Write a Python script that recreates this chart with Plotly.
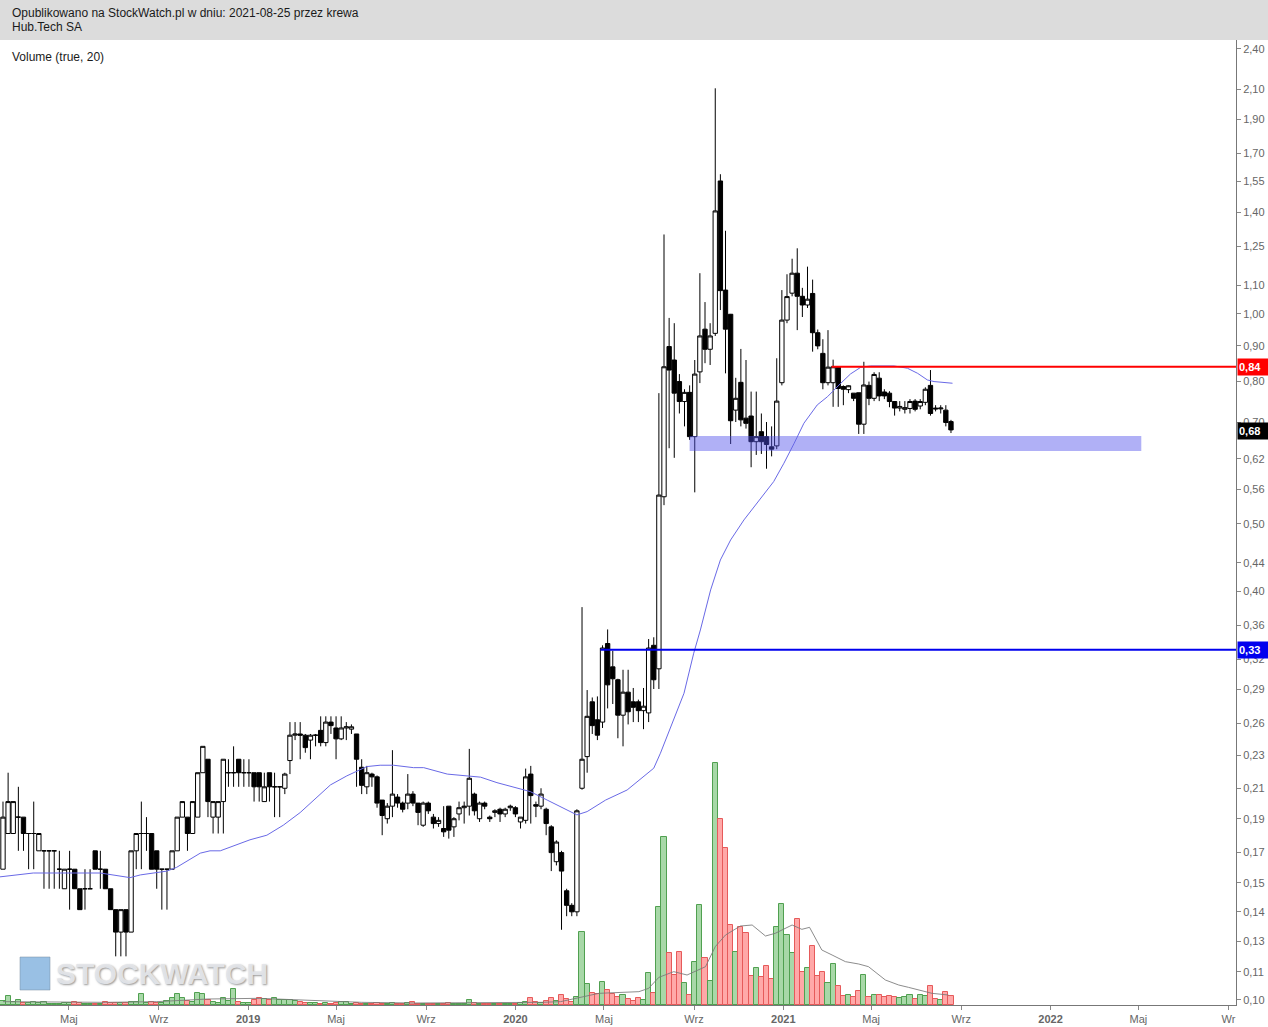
import numpy as np
import pandas as pd
import plotly.graph_objects as go

# ---------------- data ----------------
first_week = "2018-01-31"

opens = [
    0.16,0.18,0.18,0.19,0.19,0.18,0.18,0.17,0.17,0.17,
    0.17,0.16,0.15,0.16,0.16,0.15,0.15,0.15,0.17,0.16,
    0.16,0.15,0.14,0.13,0.14,0.13,0.17,0.18,0.18,0.18,
    0.17,0.16,0.16,0.16,0.17,0.19,0.19,0.18,0.19,0.22,
    0.23,0.19,0.19,0.20,0.22,0.22,0.23,0.22,0.22,0.22,
    0.22,0.20,0.22,0.21,0.21,0.209,0.229,0.249,0.25,0.249,
    0.245,0.249,0.253,0.243,0.26,0.255,0.246,0.255,0.254,0.25,
    0.224,0.21,0.219,0.217,0.201,0.189,0.197,0.203,0.199,0.199,
    0.205,0.199,0.185,0.199,0.19,0.186,0.183,0.197,0.184,0.192,
    0.196,0.197,0.205,0.189,0.199,0.19,0.193,0.195,0.192,0.196,
    0.196,0.187,0.188,0.219,0.198,0.197,0.195,0.184,0.164,0.169,
    0.149,0.142,0.139,0.209,0.232,0.278,0.262,0.26,0.337,0.312,
    0.299,0.266,0.287,0.278,0.278,0.27,0.268,0.335,0.31,0.547,
    0.898,0.859,0.80,0.749,0.772,0.667,0.826,0.951,0.89,0.938,
    1.551,1.082,0.999,0.728,0.798,0.709,0.714,0.656,0.678,0.667,
    0.645,0.647,0.797,0.98,1.071,1.144,1.06,1.03,1.07,0.94,
    0.878,0.797,0.797,0.84,0.787,0.779,0.77,0.771,0.695,0.79,
    0.757,0.809,0.773,0.77,0.749,0.733,0.73,0.732,0.75,0.738,
    0.747,0.79,0.733,0.731,0.728,0.701,
]
highs = [
    0.20,0.22,0.20,0.21,0.19,0.18,0.20,0.18,0.17,0.17,
    0.17,0.17,0.16,0.17,0.16,0.15,0.16,0.16,0.17,0.17,
    0.16,0.15,0.14,0.14,0.14,0.17,0.18,0.20,0.19,0.18,
    0.17,0.16,0.16,0.17,0.19,0.20,0.19,0.20,0.22,0.24,
    0.23,0.20,0.20,0.23,0.23,0.24,0.23,0.23,0.23,0.22,
    0.22,0.22,0.22,0.22,0.21,0.22,0.26,0.26,0.26,0.25,
    0.25,0.25,0.265,0.265,0.265,0.265,0.265,0.26,0.258,0.25,
    0.23,0.225,0.22,0.218,0.201,0.199,0.237,0.205,0.2,0.219,
    0.207,0.199,0.2,0.2,0.192,0.19,0.197,0.197,0.19,0.2,
    0.2,0.238,0.206,0.2,0.2,0.191,0.195,0.196,0.196,0.198,
    0.197,0.19,0.223,0.225,0.2,0.209,0.196,0.185,0.176,0.17,
    0.15,0.143,0.195,0.38,0.289,0.282,0.283,0.335,0.353,0.329,
    0.30,0.309,0.309,0.291,0.28,0.291,0.342,0.344,0.77,1.30,
    0.987,0.97,0.82,0.78,0.79,0.859,1.144,1.04,0.97,2.106,
    1.586,1.316,1.0,0.81,0.891,0.859,0.774,0.774,0.72,0.70,
    0.69,0.864,1.082,1.14,1.20,1.242,1.09,1.169,1.12,0.95,
    0.92,0.948,0.86,0.84,0.79,0.79,0.77,0.771,0.854,0.80,
    0.825,0.825,0.78,0.775,0.75,0.75,0.75,0.755,0.755,0.755,
    0.785,0.831,0.74,0.74,0.74,0.705,
]
lows = [
    0.16,0.18,0.18,0.17,0.17,0.16,0.16,0.17,0.15,0.15,
    0.15,0.15,0.15,0.14,0.15,0.14,0.14,0.15,0.16,0.15,
    0.15,0.14,0.12,0.12,0.12,0.13,0.16,0.16,0.17,0.16,
    0.15,0.14,0.14,0.16,0.17,0.19,0.17,0.18,0.19,0.22,
    0.19,0.18,0.18,0.18,0.21,0.21,0.21,0.21,0.21,0.20,
    0.20,0.20,0.20,0.19,0.19,0.205,0.219,0.245,0.23,0.235,
    0.23,0.24,0.24,0.24,0.25,0.23,0.245,0.245,0.25,0.21,
    0.205,0.205,0.21,0.196,0.179,0.186,0.19,0.196,0.193,0.195,
    0.197,0.185,0.184,0.192,0.183,0.184,0.178,0.177,0.178,0.188,
    0.186,0.191,0.191,0.187,0.195,0.187,0.19,0.187,0.19,0.194,
    0.19,0.183,0.186,0.186,0.19,0.195,0.179,0.159,0.162,0.131,
    0.137,0.137,0.137,0.208,0.22,0.25,0.245,0.255,0.272,0.276,
    0.2465,0.24,0.258,0.26,0.26,0.254,0.26,0.29,0.29,0.532,
    0.642,0.622,0.72,0.69,0.66,0.555,0.796,0.85,0.845,0.93,
    1.013,0.822,0.651,0.70,0.69,0.685,0.603,0.628,0.63,0.60,
    0.625,0.64,0.79,0.97,1.06,0.948,0.99,1.02,0.883,0.89,
    0.78,0.79,0.736,0.736,0.74,0.77,0.75,0.673,0.673,0.74,
    0.75,0.75,0.755,0.735,0.715,0.725,0.72,0.72,0.725,0.73,
    0.74,0.715,0.725,0.72,0.69,0.675,
]
closes = [
    0.19,0.20,0.20,0.19,0.18,0.18,0.18,0.18,0.17,0.17,
    0.17,0.16,0.16,0.16,0.15,0.14,0.15,0.15,0.16,0.16,
    0.15,0.14,0.13,0.14,0.13,0.17,0.18,0.18,0.18,0.16,
    0.16,0.16,0.16,0.17,0.19,0.20,0.18,0.20,0.22,0.24,
    0.20,0.20,0.20,0.23,0.22,0.22,0.22,0.22,0.22,0.21,
    0.21,0.21,0.21,0.21,0.21,0.219,0.249,0.25,0.249,0.239,
    0.249,0.249,0.243,0.26,0.257,0.246,0.255,0.256,0.256,0.23,
    0.211,0.22,0.217,0.199,0.191,0.197,0.205,0.199,0.195,0.205,
    0.199,0.193,0.199,0.194,0.186,0.188,0.181,0.182,0.189,0.196,
    0.197,0.216,0.194,0.199,0.197,0.189,0.194,0.192,0.195,0.197,
    0.192,0.19,0.217,0.204,0.197,0.205,0.186,0.169,0.175,0.159,
    0.142,0.139,0.194,0.23,0.265,0.257,0.249,0.332,0.294,0.30,
    0.266,0.287,0.269,0.273,0.27,0.274,0.332,0.299,0.55,0.84,
    0.831,0.77,0.749,0.772,0.667,0.82,0.93,0.89,0.93,1.405,
    1.08,0.951,0.703,0.757,0.705,0.697,0.656,0.667,0.656,0.65,
    0.64,0.75,0.98,1.059,1.144,1.06,1.03,1.05,0.94,0.90,
    0.797,0.839,0.84,0.782,0.78,0.789,0.757,0.695,0.791,0.757,
    0.819,0.763,0.763,0.749,0.733,0.737,0.734,0.749,0.73,0.749,
    0.78,0.72,0.731,0.733,0.699,0.682,
]
# weekly volume (thousand shares)
volume_k = [
    12,28,10,16,7,5,10,6,10,4,
    4,4,5,5,10,5,3,3,3,4,
    10,6,6,6,7,9,10,34,6,10,
    5,5,12,22,34,22,12,10,37,32,
    15,10,6,20,12,49,10,5,6,16,
    20,18,16,22,15,16,16,12,10,7,
    5,5,4,5,4,5,10,10,4,5,
    4,4,4,7,4,4,5,4,4,7,
    10,3,3,3,3,3,3,7,4,4,
    4,16,5,4,4,3,3,3,3,4,
    4,5,10,22,10,7,12,20,12,30,
    17,10,23,218,62,35,33,68,45,33,
    25,30,18,13,21,15,95,35,293,503,
    155,90,158,65,30,128,300,140,73,727,
    558,472,240,160,233,215,87,110,85,117,
    78,233,302,210,155,258,100,110,177,87,
    98,65,123,57,27,29,25,42,90,25,
    30,29,25,27,25,21,25,29,17,29,
    27,57,17,15,39,28,
]

# moving average of price: week offset, value
ma_week = [-0.6, 5.9, 12.4, 19, 24.8, 26.8, 32, 33.9, 38.5, 40.4, 42.4, 45, 48.2, 51.5,
           54.7, 58, 60.6, 63.9, 67.1, 71, 73.6, 76.2, 80.1, 82.1, 86.7, 90.6, 93.2, 96.4,
           99.7, 102.9, 106.2, 109.4, 112, 114, 117.6, 121.8, 127, 128.3, 130.3, 132.9,
           134.8, 136.1, 138.1, 140, 142, 144.6, 150.4, 152.4, 154.4, 156.3, 158.9, 160.9,
           163.5, 165.4, 167.4, 169.3, 173.9, 176.5, 178.5, 180.4, 181.7, 185.3]
ma_price = [0.156, 0.158, 0.158, 0.158, 0.1556, 0.157, 0.159, 0.161, 0.1687, 0.17, 0.17,
            0.1728, 0.1763, 0.179, 0.185, 0.1929, 0.201, 0.2113, 0.2177, 0.2245, 0.2255,
            0.2255, 0.2237, 0.2237, 0.219, 0.2177, 0.2168, 0.2129, 0.2097, 0.2067, 0.201,
            0.1957, 0.1914, 0.1935, 0.201, 0.2078, 0.2233, 0.2346, 0.2562, 0.286, 0.3264,
            0.3524, 0.4022, 0.444, 0.4743, 0.5067, 0.575, 0.611, 0.6526, 0.6972, 0.7406,
            0.761, 0.7956, 0.8204, 0.8387, 0.8423, 0.8423, 0.836, 0.822, 0.8043, 0.80, 0.7956]

# moving average of volume (grey line)
vma_week = [0, 10, 20, 30, 40, 50, 60, 70, 80, 90, 100, 105, 108.8, 112.7, 116.3, 124.1,
            126, 128, 130.9, 133.5, 137.1, 139, 141, 143.9, 146.2, 148.8, 150.7, 154,
            155.9, 157.4, 159.8, 161.8, 164.4, 167, 168.9, 172.2, 174.8, 176.7, 178.7,
            181.3, 184.5]
vma_val = [10, 9, 8, 10, 18, 20, 15, 8, 6, 6, 6, 8, 10, 23, 35, 40, 50, 83, 100, 90, 115,
           175, 210, 237, 240, 207, 215, 240, 227, 233, 165, 150, 130, 123, 115, 75, 60,
           53, 45, 35, 30]

# horizontal levels and support zone
resistance_level = 0.84
resistance_start_week = 161.7
breakout_level = 0.33
breakout_start_week = 116.6
zone_low, zone_high = 0.6363, 0.6686
zone_start, zone_end = "2020-08-26", "2022-05-05"
last_price = 0.68

# axis ticks
ytick_vals = [0.104, 0.114, 0.126, 0.139, 0.153, 0.169, 0.189, 0.209, 0.233, 0.259, 0.29,
              0.32, 0.358, 0.40, 0.44, 0.50, 0.56, 0.62, 0.70, 0.80, 0.90, 1.00, 1.10,
              1.25, 1.40, 1.55, 1.70, 1.90, 2.10, 2.40]
ytick_text = ["0,10", "0,11", "0,13", "0,14", "0,15", "0,17", "0,19", "0,21", "0,23",
              "0,26", "0,29", "0,32", "0,36", "0,40", "0,44", "0,50", "0,56", "0,62",
              "0,70", "0,80", "0,90", "1,00", "1,10", "1,25", "1,40", "1,55", "1,70",
              "1,90", "2,10", "2,40"]
xtick_dates = ["2018-05-01", "2018-09-01", "2019-01-01", "2019-05-01", "2019-09-01",
               "2020-01-01", "2020-05-01", "2020-09-01", "2021-01-01", "2021-05-01",
               "2021-09-01", "2022-01-01", "2022-05-01", "2022-09-01"]
xtick_text = ["Maj", "Wrz", "<b>2019</b>", "Maj", "Wrz", "<b>2020</b>", "Maj", "Wrz",
              "<b>2021</b>", "Maj", "Wrz", "<b>2022</b>", "Maj", "Wr"]

# ---------------- figure ----------------
base = pd.Timestamp(first_week)
dates = pd.date_range(first_week, periods=len(closes), freq="7D")
ma_dates = base + pd.to_timedelta(np.array(ma_week) * 7, unit="D")
vma_dates = base + pd.to_timedelta(np.array(vma_week) * 7, unit="D")
x_range = ["2018-01-26 22:00", "2022-09-11 09:00"]

W, H = 1268, 1027
ML, MR, MT, MB = 0, 32, 40, 22
plot_h = H - MT - MB
plot_w = W - ML - MR

fig = go.Figure()

# support zone (under candles)
fig.add_trace(go.Scatter(
    x=[zone_start, zone_end, zone_end, zone_start, zone_start],
    y=[zone_low, zone_low, zone_high, zone_high, zone_low],
    fill="toself", fillcolor="rgba(80,80,235,0.45)", mode="lines",
    line=dict(width=0), hoverinfo="skip", showlegend=False))

# price MA
fig.add_trace(go.Scatter(x=ma_dates, y=ma_price, mode="lines",
                         line=dict(color="rgb(105,105,230)", width=1),
                         hoverinfo="skip", showlegend=False))

# candles
fig.add_trace(go.Candlestick(
    x=dates, open=opens, high=highs, low=lows, close=closes,
    increasing=dict(fillcolor="white", line=dict(color="black", width=1)),
    decreasing=dict(fillcolor="black", line=dict(color="black", width=1)),
    whiskerwidth=0, hoverinfo="skip", showlegend=False))

# horizontal levels
res_start = base + pd.Timedelta(days=resistance_start_week * 7)
brk_start = base + pd.Timedelta(days=breakout_start_week * 7)
fig.add_trace(go.Scatter(x=[res_start, x_range[1]], y=[resistance_level] * 2, mode="lines",
                         line=dict(color="#ff0000", width=2), hoverinfo="skip",
                         showlegend=False, cliponaxis=False))
fig.add_trace(go.Scatter(x=[brk_start, x_range[1]], y=[breakout_level] * 2, mode="lines",
                         line=dict(color="#0000ee", width=2), hoverinfo="skip",
                         showlegend=False, cliponaxis=False))

# volume
up = [c >= o for o, c in zip(opens, closes)]
vol_fill = ["rgba(110,190,110,0.6)" if u else "rgba(255,110,110,0.6)" for u in up]
vol_line = ["rgb(80,160,80)" if u else "rgb(230,90,90)" for u in up]
fig.add_trace(go.Bar(x=dates, y=volume_k, yaxis="y2",
                     marker=dict(color=vol_fill, line=dict(color=vol_line, width=1)),
                     width=7 * 24 * 3600 * 1000, hoverinfo="skip", showlegend=False))
fig.add_trace(go.Scatter(x=vma_dates, y=vma_val, yaxis="y2", mode="lines",
                         line=dict(color="rgba(120,120,120,0.85)", width=1),
                         hoverinfo="skip", showlegend=False))

# price range on log axis (top of plot ~2.47, bottom ~0.1022)
y_lo, y_hi = 0.1022, 2.470
vol_top = 2895

axis_font = dict(family="Liberation Sans, Arial, sans-serif", size=11, color="#666666")

fig.update_layout(
    width=W, height=H,
    margin=dict(l=ML, r=MR, t=MT, b=MB, pad=0),
    paper_bgcolor="white", plot_bgcolor="white",
    showlegend=False, boxgap=0.08, boxgroupgap=0.08, bargap=0,
    font=dict(family="Liberation Sans, Arial, sans-serif", size=12, color="#222222"),
    xaxis=dict(type="date", range=x_range, rangeslider=dict(visible=False),
               tickvals=xtick_dates, ticktext=xtick_text, tickfont=axis_font,
               ticks="outside", ticklen=4, tickcolor="#888888",
               showline=True, linecolor="#777777", linewidth=1,
               showgrid=False, zeroline=False, fixedrange=True),
    yaxis=dict(type="log", side="right", range=[np.log10(y_lo), np.log10(y_hi)],
               tickvals=ytick_vals, ticktext=ytick_text, tickfont=axis_font,
               ticks="outside", ticklen=4, tickcolor="#888888",
               showline=True, linecolor="#777777", linewidth=1,
               showgrid=False, zeroline=False, fixedrange=True),
    yaxis2=dict(overlaying="y", range=[0, vol_top], visible=False, fixedrange=True),
)

# header banner
fig.add_shape(type="rect", xref="paper", yref="paper", x0=0, x1=W / plot_w,
              y0=1, y1=1 + MT / plot_h, fillcolor="#dcdcdc", line=dict(width=0), layer="below")
fig.add_annotation(xref="paper", yref="paper", x=10 / plot_w, y=1 + (MT - 13) / plot_h,
                   xanchor="left", yanchor="middle", showarrow=False,
                   text="Opublikowano na StockWatch.pl w dniu: 2021-08-25 przez krewa",
                   font=dict(size=12, color="#1a1a1a"))
fig.add_annotation(xref="paper", yref="paper", x=10 / plot_w, y=1 + (MT - 27) / plot_h,
                   xanchor="left", yanchor="middle", showarrow=False,
                   text="Hub.Tech SA", font=dict(size=12, color="#1a1a1a"))
fig.add_annotation(xref="paper", yref="paper", x=10 / plot_w, y=1 - 17 / plot_h,
                   xanchor="left", yanchor="middle", showarrow=False,
                   text="Volume (true, 20)", font=dict(size=12, color="#1a1a1a"))

# price labels on the right axis
for lvl, bg in [(resistance_level, "#ff0000"), (last_price, "#000000"), (breakout_level, "#0000ee")]:
    fig.add_annotation(xref="paper", yref="y", x=1, y=np.log10(lvl), xanchor="left",
                       yanchor="middle", xshift=1, showarrow=False,
                       text="<b>" + f"{lvl:.2f}".replace(".", ",") + "</b>",
                       bgcolor=bg, font=dict(size=11, color="white"),
                       width=28, height=14, borderpad=1, align="left")

# watermark
fig.add_shape(type="rect", xref="paper", yref="paper",
              x0=20 / plot_w, x1=50 / plot_w, y0=15 / plot_h, y1=48 / plot_h,
              fillcolor="rgba(70,140,205,0.55)",
              line=dict(color="rgba(120,140,160,0.5)", width=1), layer="above")
fig.add_annotation(xref="paper", yref="paper", x=54 / plot_w, y=32 / plot_h,
                   xanchor="left", yanchor="middle", showarrow=False, text="<b>STOCKWATCH</b>",
                   font=dict(family="Liberation Sans, Arial, sans-serif",
                             size=30, color="rgba(228,230,234,0.95)",
                             shadow="1px 1px 2px rgba(120,120,120,0.8)"))

fig.write_html("out.html", config={"displayModeBar": False},
               post_script="document.body.style.margin='0';")
